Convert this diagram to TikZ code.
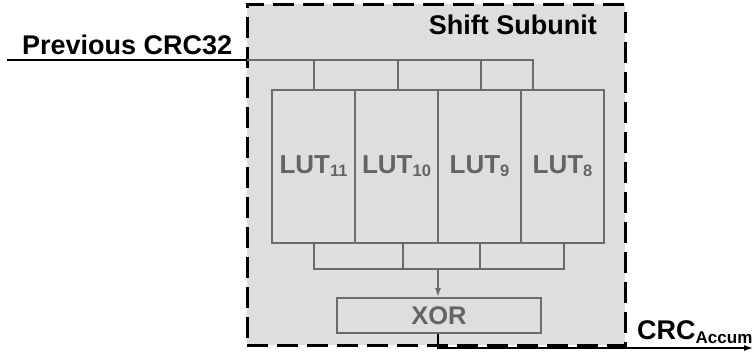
\documentclass[tikz,border=0pt]{standalone}
\usepackage{fontspec}
\setmainfont{Liberation Sans}
\usetikzlibrary{arrows.meta}
\pgfdeclarelayer{boxlayer}
\pgfdeclarelayer{edgelayer}
\pgfdeclarelayer{nodelayer}
\pgfsetlayers{boxlayer,edgelayer,nodelayer,main}
\definecolor{boxgray}{HTML}{DEDEDE}
\definecolor{linegray}{HTML}{6B6B6B}
\definecolor{textgray}{HTML}{646464}
\newcommand{\lutsub}[1]{\raisebox{-3pt}{\fontsize{16.5}{16.5}\selectfont #1}}
\newcommand{\crcsub}[1]{\raisebox{-4pt}{\fontsize{17}{17}\selectfont #1}}
\tikzstyle{subunit}=[draw=black, fill=boxgray, line width=3pt, dash pattern=on 21pt off 9pt, minimum width=378pt, minimum height=341pt, inner sep=0pt]
\tikzstyle{wire}=[draw=linegray, line width=2pt]
\tikzstyle{signal}=[draw=black, line width=2pt]
\tikzstyle{lut}=[draw=linegray, fill=boxgray, line width=2.5pt, minimum width=83pt, minimum height=153pt, inner sep=0pt, text=textgray, font=\fontsize{26}{30}\selectfont\bfseries]
\tikzstyle{gate}=[draw=linegray, fill=boxgray, line width=2pt, minimum width=204pt, minimum height=35pt, inner sep=0pt, text=textgray, font=\fontsize{25.5}{30}\selectfont\bfseries]
\tikzstyle{title}=[inner sep=0pt, font=\fontsize{27}{30}\selectfont\bfseries]

\begin{document}
\begin{tikzpicture}[x=1pt, y=-1pt]
				\useasboundingbox (0,0) rectangle (754,360);
				\begin{pgfonlayer}{boxlayer}
					\node [style=subunit] (unit) at (436, 174.5) {};
				\end{pgfonlayer}
				\begin{pgfonlayer}{nodelayer}
					\node [style=lut] (lut11) at (313.5, 166.5) {LUT\lutsub{11}};
					\node [style=lut] (lut10) at (396.5, 166.5) {LUT\lutsub{10}};
					\node [style=lut] (lut9) at (479.5, 166.5) {LUT\lutsub{9}};
					\node [style=lut] (lut8) at (562.5, 166.5) {LUT\lutsub{8}};
					\node [style=gate] (xor) at (439, 315.5) {XOR};
					\node [style=title, anchor=base east] (name) at (597, 34) {Shift Subunit};
					\node [style=title, anchor=base west] (prev) at (22, 54) {Previous CRC32};
					\node [style=title, anchor=base west] (accum) at (637, 339) {CRC\crcsub{Accum}};
				\end{pgfonlayer}
				\begin{pgfonlayer}{edgelayer}
					\coordinate (in) at (7, 60);
					\coordinate (edge) at (247, 60);
					\coordinate (tap8) at (533, 90);
					\coordinate (merge) at (438, 269);
					\coordinate (out) at (754, 348);
					\draw [style=signal] (in) to (edge);
					\draw [style=wire] (edge) -| (tap8);
					\draw [style=wire] (lut11.north) to (lut11.north |- edge);
					\draw [style=wire] ([xshift=1.5pt]lut10.north) to ([xshift=1.5pt]lut10.north |- edge);
					\draw [style=wire] ([xshift=1.5pt]lut9.north) to ([xshift=1.5pt]lut9.north |- edge);
					\draw [style=wire] (lut11.south) |- ([xshift=1.5pt]lut8.south |- merge) to ([xshift=1.5pt]lut8.south);
					\draw [style=wire] ([xshift=6.5pt]lut10.south) to ([xshift=6.5pt]lut10.south |- merge);
					\draw [style=wire] (lut9.south) to (lut9.south |- merge);
					\draw [style=wire, line width=1.5pt, -{Latex[length=9pt, width=6pt]}] (merge) to (xor.north -| merge);
					\draw [style=signal, -{Latex[length=10pt, width=6pt]}] (xor.south -| merge) |- (out);
				\end{pgfonlayer}
			\end{tikzpicture}
\end{document}
